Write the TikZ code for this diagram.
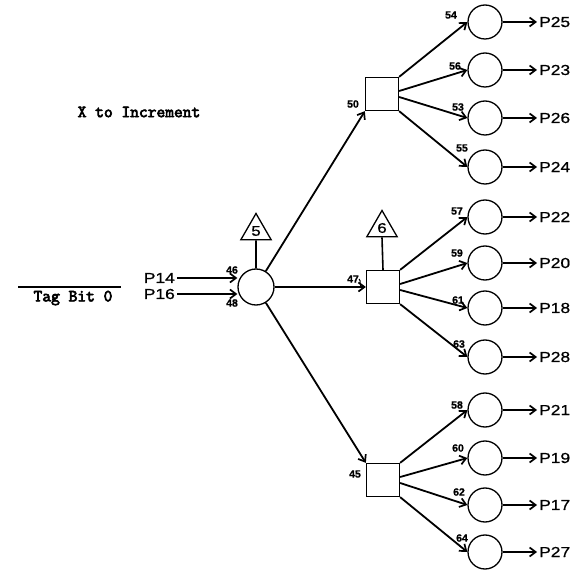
\documentclass[tikz,border=0pt]{standalone}
\usepackage{fontspec}
\setmainfont{Liberation Sans}
\newfontfamily\plabfont[FakeStretch=1.2,FakeBold=0.8]{Liberation Sans}
\newfontfamily\numfont[FakeBold=1]{Liberation Sans}
\newfontfamily\ttlab[FakeBold=4]{Latin Modern Mono}
\usetikzlibrary{arrows.meta,shapes.geometric,calc}
\begin{document}
\begin{tikzpicture}[x=1pt,y=-1pt,
  cnode/.style={circle,draw,line width=1.3pt,minimum size=34pt,inner sep=0pt},
  sq/.style={rectangle,draw,line width=1.3pt,minimum size=33pt,inner sep=0pt},
  tri/.style={regular polygon,regular polygon sides=3,draw,line width=1.3pt,minimum size=35pt,inner sep=0pt,font=\plabfont\fontsize{14}{14}\selectfont},
  num/.style={font=\numfont\bfseries\fontsize{10.5}{10.5}\selectfont,inner sep=0pt},
  plab/.style={font=\plabfont\fontsize{14.5}{14.5}\selectfont,anchor=west,inner sep=2pt},
  mono/.style={font=\ttlab\fontsize{17}{17}\selectfont,inner sep=0pt},
  arr/.style={line width=1.8pt,-{Straight Barb[length=6pt,width=9pt,line width=1.7pt]}},
  conn/.style={line width=1.6pt},
]
\useasboundingbox (0,0) rectangle (582,572);

% texts
\node[mono] (xinc) at (139,112) {X to Increment};
\node[mono] (tag) at (73,298) {Tag Bit 0};
\coordinate (ol1) at (18,287);
\coordinate (ol2) at (121,287);
\draw[conn] (ol1) -- (ol2);

% centre
\node[cnode,minimum size=36pt] (c0) at (256,287) {};
\node[tri] (t5) at (256,231) {5};
\draw[conn] (t5.south) -- (c0.north);

\node[plab,anchor=east] (p14) at (177,278) {P14};
\node[plab,anchor=east] (p16) at (177,294) {P16};
\draw[arr] (p14.east) -- (p14.east -| c0.west);
\draw[arr] (p16.east) -- (p16.east -| c0.west);
\node[num] (l46) at (232,270) {46};
\node[num] (l48) at (232,303) {48};

% squares
\node[sq] (s50) at (382,94) {};
\node[sq] (s47) at (383,287) {};
\node[sq] (s45) at (383,480) {};
\node[tri] (t6) at (382,228) {6};
\draw[conn] (t6.south) -- (s47.north);

\draw[arr] (c0) -- (s50.south west);
\draw[arr] (c0.east) -- (s47.west);
\draw[arr] (c0) -- (s45.north west);

\node[num] (l50) at (353,104) {50};
\node[num] (l47) at (353,279) {47};
\node[num] (l45) at (355,474) {45};
\coordinate (hk) at (363,288);
\draw[line width=1pt] (l47.east) .. controls (362,281) and (358,286) .. (hk);

% right column
\foreach \i/\y/\lab/\pl/\lx/\ly in {
  1/22/54/P25/451/15,
  2/70/56/P23/455/66,
  3/118/53/P26/458/107,
  4/167/55/P24/462/148,
  5/217/57/P22/457/211,
  6/263/59/P20/457/253,
  7/308/61/P18/458/300,
  8/357/63/P28/459/344,
  9/410/58/P21/457/405,
  10/458/60/P19/458/448,
  11/505/62/P17/459/492,
  12/552/64/P27/462/538}{
  \node[cnode] (c\i) at (485,\y) {};
  \node[plab] (p\i) at (537,\y) {\pl};
  \draw[arr] (c\i.east) -- (p\i.west);
  \node[num] (n\i) at (\lx,\ly) {\lab};
}

\foreach \s/\a/\b/\c/\d in {s50/1/2/3/4, s47/5/6/7/8, s45/9/10/11/12}{
  \draw[arr] (\s.north east) -- (c\a.west);
  \draw[arr] ($(\s.east)+(0,-3)$) -- (c\b.west);
  \draw[arr] ($(\s.east)+(0,3)$) -- (c\c.west);
  \draw[arr] (\s.south east) -- (c\d.west);
}
\end{tikzpicture}
\end{document}
